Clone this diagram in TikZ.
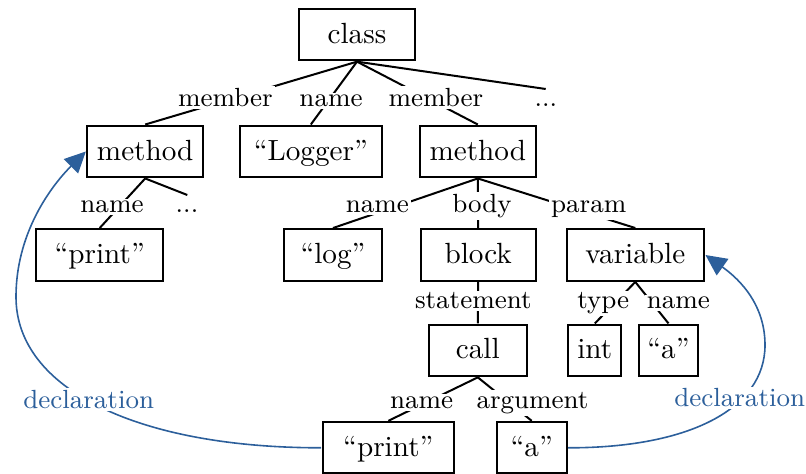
\documentclass[tikz,border=0pt]{standalone}
\usetikzlibrary{arrows.meta}
\definecolor{declblue}{RGB}{44,95,155}
\tikzset{
  box/.style={draw, line width=1pt, scale=1.46, minimum height=17.47pt, inner xsep=1.4pt,
    text height=6.85pt, text depth=0.96pt, font=\fontsize{10}{12}\selectfont},
  rel/.style={fill=white, scale=1.46, inner sep=0.7pt, anchor=base, font=\fontsize{9}{11}\selectfont},
  link/.style={line width=1pt},
  decl/.style={draw=declblue, line width=0.8pt, -{Triangle[length=10.5pt,width=10pt,fill=declblue]}},
  decllabel/.style={rel, text=declblue},
}
\begin{document}
\begin{tikzpicture}[x=0.5pt,y=-0.5pt]
\useasboundingbox (0,0) rectangle (806,474);

% tree nodes (widths are given at the unscaled size)
\node[box, minimum width=58pt/1.46]   (class) at (357,34.7)   {class};
\node[box, minimum width=57.9pt/1.46] (m1)    at (145.2,151.5) {method};
\node[box, minimum width=70.9pt/1.46] (lg)    at (310.8,151.5) {``Logger''};
\node[box, minimum width=57.9pt/1.46] (m2)    at (477.8,151.5) {method};
\node[box, minimum width=63.6pt/1.46] (p1)    at (99.7,255)    {``print''};
\node[box, minimum width=48.7pt/1.46] (log)   at (333,255)     {``log''};
\node[box, minimum width=57.5pt/1.46] (blk)   at (478.2,255)   {block};
\node[box, minimum width=68.7pt/1.46] (var)   at (635.3,255)   {variable};
\node[box, minimum width=48.9pt/1.46] (call)  at (477.8,350.4) {call};
\node[box, minimum width=26.5pt/1.46] (int)   at (594.8,350.4) {int};
\node[box, minimum width=29.2pt/1.46] (a1)    at (668.5,350.4) {``a''};
\node[box, minimum width=65.7pt/1.46] (p2)    at (388.3,447.8) {``print''};
\node[box, minimum width=35pt/1.46]   (a2)    at (531.7,447.8) {``a''};

% free ends of the elided branches
\coordinate (moreA) at (545.7,89);
\coordinate (moreB) at (187.3,195);

% tree edges
\draw[link] (class.south) -- (m1.north);
\draw[link] (class.south) -- (lg.north);
\draw[link] (class.south) -- (m2.north);
\draw[link] (class.south) -- (moreA);
\draw[link] (m1.south) -- (p1.north);
\draw[link] (m1.south) -- (moreB);
\draw[link] (m2.south) -- (log.north);
\draw[link] (m2.south) -- (blk.north);
\draw[link] (m2.south) -- (var.north);
\draw[link] (blk.south) -- (call.north);
\draw[link] (var.south) -- (int.north);
\draw[link] (var.south) -- (a1.north);
\draw[link] (call.south) -- (p2.north);
\draw[link] (call.south) -- (a2.north);

% declaration references
\draw[decl] (p2.west) .. controls (137.7,447.8) and (16,389) .. (16,297)
  .. controls (16,227) and (57.6,179.5) .. (m1.west);
\draw[decl] (a2.east) .. controls (688.7,448) and (765,409) .. (765,345)
  .. controls (765,300) and (733.7,275.1) .. (var.east);

% edge labels
\node[rel] (l1) at (225.3,106.5) {member};
\node[rel] (l2) at (331,106.5)   {name};
\node[rel] (l3) at (435.8,106.5) {member};
\node[rel] (l4) at (545.8,106.5) {...};
\node[rel] (l5) at (112,212.5)   {name};
\node[rel] (l6) at (187,212.5)   {...};
\node[rel] (l7) at (377.3,212.5) {name};
\node[rel] (l8) at (482,212.5)   {body};
\node[rel] (l9) at (588.7,212.5) {param};
\node[rel] (l10) at (473.3,309)  {statement};
\node[rel] (l11) at (603.3,309)  {type};
\node[rel] (l12) at (678.3,309)  {name};
\node[rel] (l13) at (421.7,408.3) {name};
\node[rel] (l14) at (532.5,408.3) {argument};
\node[decllabel] (d1) at (88.7,408.3) {declaration};
\node[decllabel] (d2) at (739.7,407)  {declaration};
\end{tikzpicture}
\end{document}
